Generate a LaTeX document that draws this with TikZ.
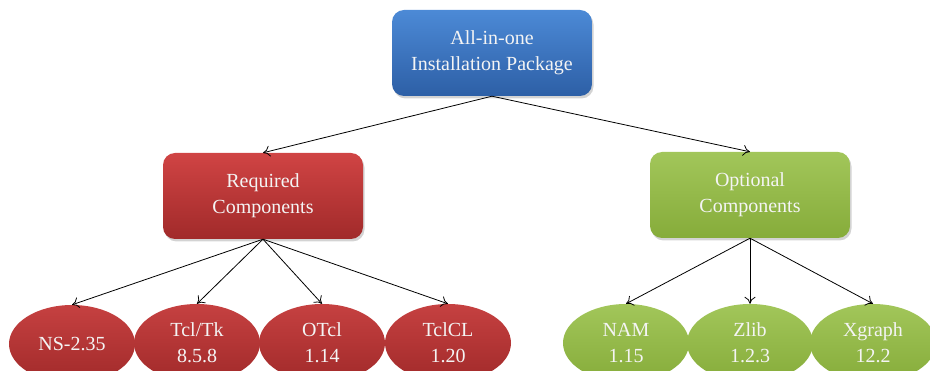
\documentclass[tikz,border=0pt]{standalone}
\usepackage{fontspec}
\setmainfont{Liberation Serif}
\usetikzlibrary{arrows.meta,shadows,shapes.geometric}
\definecolor{bluetop}{HTML}{4C8AD6}
\definecolor{bluebot}{HTML}{2D5FA6}
\definecolor{redtop}{HTML}{D04444}
\definecolor{redbot}{HTML}{A12A2A}
\definecolor{greentop}{HTML}{A2C65A}
\definecolor{greenbot}{HTML}{86AC3A}
\definecolor{txt}{HTML}{F4F4F4}
\tikzset{
  box/.style={rounded corners=12pt, minimum width=200pt, minimum height=86pt,
    align=center, text=txt, font=\rmfamily\fontsize{20}{26}\selectfont,
    drop shadow={shadow xshift=1.5pt, shadow yshift=-2.5pt, opacity=0.35}},
  leaf/.style={ellipse, minimum width=126pt, minimum height=78pt, inner sep=0pt,
    align=center, text=txt, font=\rmfamily\fontsize{20}{26}\selectfont},
  conn/.style={line width=0.8pt, -{To[length=7pt,width=11pt]}}
}
\begin{document}
\begin{tikzpicture}[x=1pt,y=-1pt]
\useasboundingbox (0,0) rectangle (930,371);
\clip (0,0) rectangle (930,371);
\node[box, top color=bluetop, bottom color=bluebot] (top) at (492,53) {All-in-one\\Installation Package};
\node[box, top color=redtop, bottom color=redbot] (req) at (263,196) {Required\\Components};
\node[box, top color=greentop, bottom color=greenbot] (opt) at (750,195) {Optional\\Components};
\node[leaf, top color=redtop!95!black, bottom color=redbot] (ns) at (72,344) {NS-2.35};
\node[leaf, top color=redtop!95!black, bottom color=redbot] (tk) at (197,343) {Tcl/Tk\\8.5.8};
\node[leaf, top color=redtop!95!black, bottom color=redbot] (otcl) at (322,343) {OTcl\\1.14};
\node[leaf, top color=redtop!95!black, bottom color=redbot] (tclcl) at (448,343) {TclCL\\1.20};
\node[leaf, top color=greentop, bottom color=greenbot] (nam) at (626,343) {NAM\\1.15};
\node[leaf, top color=greentop, bottom color=greenbot] (zlib) at (750,343) {Zlib\\1.2.3};
\node[leaf, top color=greentop, bottom color=greenbot] (xg) at (873,343) {Xgraph\\12.2};
\draw[conn] (top.south) -- (req.north);
\draw[conn] (top.south) -- (opt.north);
\draw[conn] (req.south) -- (ns.north);
\draw[conn] (req.south) -- (tk.north);
\draw[conn] (req.south) -- (otcl.north);
\draw[conn] (req.south) -- (tclcl.north);
\draw[conn] (opt.south) -- (nam.north);
\draw[conn] (opt.south) -- (zlib.north);
\draw[conn] (opt.south) -- (xg.north);
\end{tikzpicture}
\end{document}
